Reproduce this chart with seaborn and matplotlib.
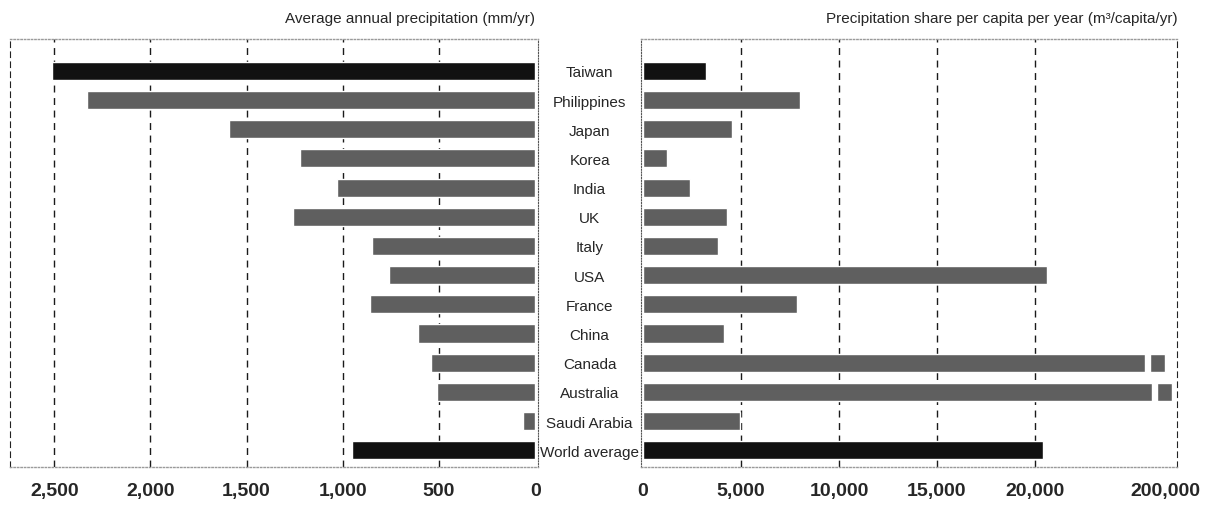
import numpy as np
import pandas as pd
import seaborn as sns
import matplotlib
matplotlib.use('Agg')
import matplotlib.pyplot as plt

# data
countries = ['Taiwan', 'Philippines', 'Japan', 'Korea', 'India', 'UK', 'Italy', 'USA',
             'France', 'China', 'Canada', 'Australia', 'Saudi Arabia', 'World average']
rainfall = [2510, 2330, 1590, 1220, 1030, 1260, 850, 760, 860, 610, 540, 510, 65, 950]
per_capita = [3200, 8000, 4550, 1250, 2400, 4300, 3850, 20600, 7850, 4150,
              200000, 236000, 4950, 20400]
left_ticks = [2500, 2000, 1500, 1000, 500, 0]
right_ticks = [0, 5000, 10000, 15000, 20000, 200000]
highlight = ['Taiwan', 'World average']
broken = ['Canada', 'Australia']

df = pd.DataFrame({'country': countries, 'rain': rainfall, 'share': per_capita})
palette = {c: ('#111111' if c in highlight else '#5f5f5f') for c in countries}

sns.set_style('white')
plt.rcParams['font.family'] = ['Liberation Sans', 'DejaVu Sans']

# broken axis for the right panel: linear up to BREAK, squeezed after
BREAK = 25000
SQUEEZE = 0.00943


def fwd(v):
    v = np.asarray(v, dtype=float)
    return np.where(v <= BREAK, v, BREAK + (v - BREAK) * SQUEEZE)


def inv(u):
    u = np.asarray(u, dtype=float)
    return np.where(u <= BREAK, u, BREAK + (u - BREAK) / SQUEEZE)


fig = plt.figure(figsize=(12.2, 5.1), dpi=100)
ax_l = fig.add_axes([0.0082, 0.082, 0.4328, 0.84])
ax_r = fig.add_axes([0.5254, 0.082, 0.4393, 0.84])

sns.barplot(data=df, x='rain', y='country', hue='country', palette=palette,
            legend=False, width=0.62, ax=ax_l, zorder=2)
sns.barplot(data=df, x='share', y='country', hue='country', palette=palette,
            legend=False, width=0.62, ax=ax_r, zorder=2)

ax_r.set_xscale('function', functions=(fwd, inv))

ax_l.set_xlim(2730, -15)
ax_r.set_xlim(-100, 263000)
for ax in (ax_l, ax_r):
    ax.set_ylim(13.58, -1.1)
    ax.set_xlabel('')
    ax.set_ylabel('')

# gaps in the bars that run off the scale
for i, c in enumerate(countries):
    if c in broken:
        end = float(fwd(per_capita[i]))
        g0 = float(inv(end - 1020))
        g1 = float(inv(end - 780))
        ax_r.barh(i, g1 - g0, left=g0, height=0.75, color='white', zorder=4)

# dashed guide lines
for t in left_ticks:
    if t != 0:
        ax_l.axvline(t, color='#1a1a1a', lw=1, ls=(0, (5, 4)), zorder=1)
for t in right_ticks:
    if 0 < t < BREAK:
        ax_r.axvline(t, color='#1a1a1a', lw=1, ls=(0, (5, 4)), zorder=1)

ax_l.set_xticks(left_ticks)
ax_l.set_xticklabels([f'{t:,}' for t in left_ticks])
ax_r.set_xticks(right_ticks)
ax_r.set_xticklabels([f'{t:,}' for t in right_ticks])
ax_r.xaxis.set_minor_locator(matplotlib.ticker.NullLocator())
for ax in (ax_l, ax_r):
    ax.tick_params(axis='x', length=0, pad=11, labelsize=14)
    for lab in ax.get_xticklabels():
        lab.set_fontweight('bold')

ax_l.set_yticks([])
ax_r.set_yticks(range(len(countries)))
ax_r.set_yticklabels(countries, ha='center', fontsize=11)
ax_r.tick_params(axis='y', length=0, pad=37)

# frames: dotted light top/bottom, dashed dark outer edges
for ax in (ax_l, ax_r):
    for s in ('top', 'bottom'):
        ax.spines[s].set_color('#9a9a9a')
        ax.spines[s].set_linestyle((0, (1, 1.5)))
        ax.spines[s].set_linewidth(1)
ax_l.spines['left'].set_color('#222222')
ax_l.spines['left'].set_linestyle((0, (5, 4)))
ax_l.spines['right'].set_color('#555555')
ax_l.spines['right'].set_linestyle((0, (1, 1.5)))
ax_r.spines['right'].set_color('#222222')
ax_r.spines['right'].set_linestyle((0, (5, 4)))
ax_r.spines['left'].set_color('#555555')
ax_r.spines['left'].set_linestyle((0, (1, 1.5)))

fig.text(0.4385, 0.963, 'Average annual precipitation (mm/yr)', ha='right',
         va='center', fontsize=11)
fig.text(0.965, 0.963, 'Precipitation share per capita per year (m³/capita/yr)',
         ha='right', va='center', fontsize=11)

fig.savefig('out.png', dpi=100)
